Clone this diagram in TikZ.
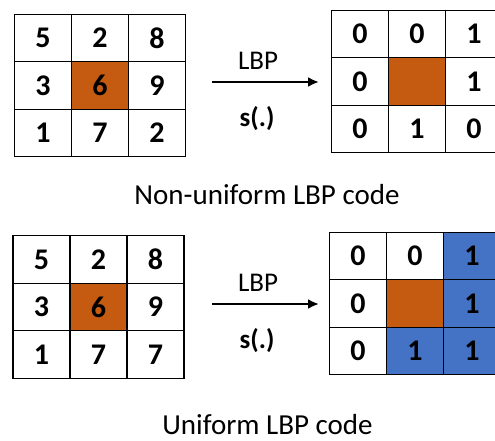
\documentclass[tikz,border=0pt]{standalone}
\usepackage{fontspec}
\setmainfont{Carlito}
\usetikzlibrary{positioning}
\usetikzlibrary{arrows.meta}
\definecolor{centre}{HTML}{C55A11}
\definecolor{uni}{HTML}{4472C4}
\tikzset{cell/.style = {draw, line width=1.2pt, minimum width=57pt, minimum height=47.5pt,
    inner sep=0pt, outer sep=0pt, font=\fontsize{30}{30}\selectfont\bfseries}}
\tikzset{centrecell/.style = {cell, fill=centre}}
\tikzset{onecell/.style = {cell, fill=uni}}
\tikzset{op/.style = {-{Latex[length=11pt,width=10pt]}, line width=2.6pt}}
\tikzset{oplabel/.style = {font=\fontsize{27}{27}\selectfont}}
\tikzset{caption/.style = {font=\fontsize{29}{29}\selectfont}}

\begin{document}
\begin{tikzpicture}[x=1pt, y=-1pt, node distance=0pt]
            \path[use as bounding box, clip] (0,0) rectangle (495,441);

            % Non-uniform: input
            \node[cell] (a1) at (43,38) {5};
            \node[cell, right=of a1] (a2) {2};
            \node[cell, right=of a2] (a3) {8};
            \node[cell, below=of a1] (a4) {3};
            \node[centrecell, right=of a4] (a5) {6};
            \node[cell, right=of a5] (a6) {9};
            \node[cell, below=of a4] (a7) {1};
            \node[cell, right=of a7] (a8) {7};
            \node[cell, right=of a8] (a9) {2};

            % Non-uniform: code
            \node[cell] (b1) at (360,34) {0};
            \node[cell, right=of b1] (b2) {0};
            \node[cell, right=of b2] (b3) {1};
            \node[cell, below=of b1] (b4) {0};
            \node[centrecell, right=of b4] (b5) {};
            \node[cell, right=of b5] (b6) {1};
            \node[cell, below=of b4] (b7) {0};
            \node[cell, right=of b7] (b8) {1};
            \node[cell, right=of b8] (b9) {0};

            % Non-uniform: operator
            \coordinate (s1) at (212,82);
            \coordinate (e1) at (319,82);
            \draw[op] (s1) -- (e1);
            \node[oplabel] (l1) at (258,61) {LBP};
            \node[oplabel] (f1) at (257,119) {\bfseries s(.)};
            \node[caption] (t1) at (267,195) {Non-uniform LBP code};

            % Uniform: input
            \node[cell] (c1) at (41.5,259.5) {5};
            \node[cell, right=of c1] (c2) {2};
            \node[cell, right=of c2] (c3) {8};
            \node[cell, below=of c1] (c4) {3};
            \node[centrecell, right=of c4] (c5) {6};
            \node[cell, right=of c5] (c6) {9};
            \node[cell, below=of c4] (c7) {1};
            \node[cell, right=of c7] (c8) {7};
            \node[cell, right=of c8] (c9) {7};

            % Uniform: code
            \node[cell] (d1) at (358,256) {0};
            \node[cell, right=of d1] (d2) {0};
            \node[onecell, right=of d2] (d3) {1};
            \node[cell, below=of d1] (d4) {0};
            \node[centrecell, right=of d4] (d5) {};
            \node[onecell, right=of d5] (d6) {1};
            \node[cell, below=of d4] (d7) {0};
            \node[onecell, right=of d7] (d8) {1};
            \node[onecell, right=of d8] (d9) {1};

            % Uniform: operator
            \coordinate (s2) at (212,304);
            \coordinate (e2) at (319,304);
            \draw[op] (s2) -- (e2);
            \node[oplabel] (l2) at (258,283) {LBP};
            \node[oplabel] (f2) at (257,341) {\bfseries s(.)};
            \node[caption] (t2) at (267.5,425) {Uniform LBP code};
        \end{tikzpicture}
\end{document}
